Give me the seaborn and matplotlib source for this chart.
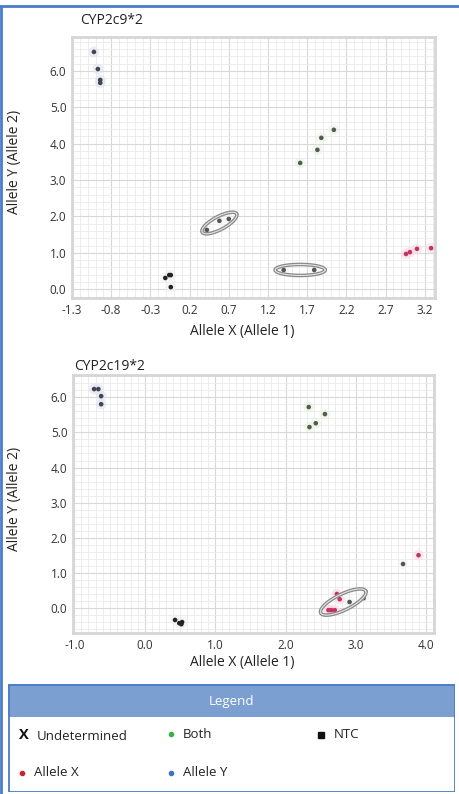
import numpy as np
import pandas as pd
import matplotlib
matplotlib.use("Agg")
import matplotlib.pyplot as plt
import seaborn as sns
from matplotlib.ticker import MultipleLocator, FixedLocator
from matplotlib.patches import Rectangle
from matplotlib.lines import Line2D

# ---------------- data: CYP2c9*2 ----------------
c9_title = "CYP2c9*2"
c9_xticks = [-1.3, -0.8, -0.3, 0.2, 0.7, 1.2, 1.7, 2.2, 2.7, 3.2]
c9_yticks = [0, 1, 2, 3, 4, 5, 6]
c9_ally_x = [-1.02, -0.97, -0.94, -0.94]
c9_ally_y = [6.52, 6.05, 5.75, 5.67]
c9_both_x = [1.61, 1.83, 1.88, 2.04]
c9_both_y = [3.47, 3.83, 4.16, 4.38]
c9_allx_x = [2.96, 3.01, 3.10, 3.28]
c9_allx_y = [0.97, 1.02, 1.11, 1.13]
c9_ntc_x = [-0.11, -0.06, -0.04, -0.04]
c9_ntc_y = [0.31, 0.39, 0.39, 0.06]
c9_unc_x = [0.42, 0.58, 0.70, 1.40, 1.79]
c9_unc_y = [1.63, 1.88, 1.93, 0.53, 0.53]
# cluster ellipses: centre x, centre y, semi-major (px), semi-minor (px), angle (deg)
c9_ell = [(0.58, 1.82, 19.5, 6.5, 28), (1.61, 0.53, 25.0, 5.5, 0)]

# ---------------- data: CYP2c19*2 ----------------
c19_title = "CYP2c19*2"
c19_xticks = [-1, 0, 1, 2, 3, 4]
c19_yticks = [0, 1, 2, 3, 4, 5, 6]
c19_ally_x = [-0.72, -0.66, -0.62, -0.62]
c19_ally_y = [6.23, 6.23, 6.03, 5.80]
c19_both_x = [2.33, 2.56, 2.43, 2.34]
c19_both_y = [5.72, 5.52, 5.26, 5.15]
c19_allx_x = [3.89, 2.73, 2.77, 2.61, 2.65, 2.70]
c19_allx_y = [1.51, 0.41, 0.26, -0.05, -0.05, -0.05]
c19_unc_x = [3.67, 2.91, 3.11]
c19_unc_y = [1.26, 0.18, 0.29]
c19_ntc_x = [0.43, 0.49, 0.53, 0.52]
c19_ntc_y = [-0.33, -0.42, -0.39, -0.45]
c19_ell = [(2.82, 0.18, 25.0, 8.0, 26)]

legend_items = ["Undetermined", "Both", "NTC", "Allele X", "Allele Y"]


def frame(groups):
    rows = []
    for name, xs, ys in groups:
        for x, y in zip(xs, ys):
            rows.append({"x": x, "y": y, "group": name})
    return pd.DataFrame(rows)


df9 = frame([("Allele Y", c9_ally_x, c9_ally_y), ("Both", c9_both_x, c9_both_y),
             ("Allele X", c9_allx_x, c9_allx_y), ("NTC", c9_ntc_x, c9_ntc_y),
             ("Unclustered", c9_unc_x, c9_unc_y)])
df19 = frame([("Allele Y", c19_ally_x, c19_ally_y), ("Both", c19_both_x, c19_both_y),
              ("Allele X", c19_allx_x, c19_allx_y), ("NTC", c19_ntc_x, c19_ntc_y),
              ("Unclustered", c19_unc_x, c19_unc_y)])

dot_pal = {"Allele Y": "#44444c", "Both": "#555a55", "Allele X": "#c8325e",
           "NTC": "#222222", "Unclustered": "#555555"}
halo_pal = {"Allele Y": "#dfe4f6", "Both": "#e6f4dc", "Allele X": "#f8dbe3",
            "NTC": "#f0f0f0", "Unclustered": "#f3f3f3"}

sns.set_theme(style="white")
plt.rcParams["font.family"] = ["Open Sans", "DejaVu Sans"]

W, H = 459, 794
fig = plt.figure(figsize=(W / 100, H / 100), dpi=100)


def px_axes(l, t, r, b):
    return fig.add_axes([l / W, 1 - b / H, (r - l) / W, (b - t) / H])


def style(ax, xlim, ylim, xticks, yticks, xminor, yminor, xlab_off, ylab_x):
    ax.set_xlim(*xlim)
    ax.set_ylim(*ylim)
    ax.xaxis.set_major_locator(FixedLocator(xticks))
    ax.yaxis.set_major_locator(FixedLocator(yticks))
    ax.set_xticklabels([f"{v:.1f}" for v in xticks])
    ax.set_yticklabels([f"{v:.1f}" for v in yticks])
    ax.xaxis.set_minor_locator(MultipleLocator(xminor))
    ax.yaxis.set_minor_locator(MultipleLocator(yminor))
    ax.grid(which="major", color="#d8d8d8", lw=0.8)
    ax.grid(which="minor", color="#eaeaea", lw=0.6)
    ax.set_axisbelow(True)
    for s in ax.spines.values():
        s.set_color("#d6d6d6")
        s.set_linewidth(2)
    ax.tick_params(which="both", length=0, labelsize=8.5, colors="#333333", pad=4)
    ax.set_xlabel("Allele X (Allele 1)", fontsize=10, color="#222222")
    ax.set_ylabel("Allele Y (Allele 2)", fontsize=10, color="#222222")
    ax.xaxis.set_label_coords(0.468, xlab_off)
    ax.yaxis.set_label_coords(ylab_x, 0.52)


def draw(ax, df, ells):
    sns.scatterplot(data=df, x="x", y="y", hue="group", palette=halo_pal, s=60,
                    alpha=0.6, edgecolor="none", legend=False, ax=ax)
    sns.scatterplot(data=df, x="x", y="y", hue="group", palette=dot_pal, s=11,
                    edgecolor="none", legend=False, ax=ax)
    x0, x1 = ax.get_xlim()
    y0, y1 = ax.get_ylim()
    sx = ax.bbox.width / (x1 - x0)
    sy = ax.bbox.height / (y1 - y0)
    t = np.linspace(0, 2 * np.pi, 200)
    for cx, cy, a, b, ang in ells:
        th = np.deg2rad(ang)
        ex = cx + (a * np.cos(t) * np.cos(th) - b * np.sin(t) * np.sin(th)) / sx
        ey = cy + (a * np.cos(t) * np.sin(th) + b * np.sin(t) * np.cos(th)) / sy
        ax.plot(ex, ey, color="#8a8a8a", lw=2.6, solid_capstyle="round")
        ax.plot(ex, ey, color="#e4e4e4", lw=0.8)


ax1 = px_axes(72, 37, 435, 298)
style(ax1, (-1.30, 3.33), (-0.24, 6.93), c9_xticks, c9_yticks, 0.1, 0.2, -0.10, -0.138)
draw(ax1, df9, c9_ell)

ax2 = px_axes(73, 375, 434, 633)
style(ax2, (-1.02, 4.11), (-0.70, 6.63), c19_xticks, c19_yticks, 0.1, 0.2, -0.085, -0.141)
draw(ax2, df19, c19_ell)

fig.text(80 / W, 1 - 21 / H, c9_title, fontsize=10, va="center", ha="left", color="#222222")
fig.text(74 / W, 1 - 367 / H, c19_title, fontsize=10, va="center", ha="left", color="#222222")

# outer blue frame (top and left)
fig.add_artist(Line2D([0, 1], [1 - 6 / H, 1 - 6 / H], transform=fig.transFigure,
                      color="#4a7cc8", lw=2))
fig.add_artist(Line2D([1.2 / W, 1.2 / W], [0, 1 - 6 / H], transform=fig.transFigure,
                      color="#4a7cc8", lw=2))

# legend panel
lg = px_axes(8, 684, 455, 792)
lg.set_xlim(0, 447)
lg.set_ylim(108, 0)
lg.axis("off")
lg.add_patch(Rectangle((0, 0), 447, 33, facecolor="#7a9fd0", edgecolor="none"))
lg.add_patch(Rectangle((0.5, 0.5), 446, 107, facecolor="none", edgecolor="#4a7cc8", lw=1.3))
lg.text(224, 17, "Legend", color="white", fontsize=9.5, ha="center", va="center")
r1, r2 = 51, 89
lg.text(16, r1, "X", fontsize=10.5, fontweight="bold", ha="center", va="center", color="#111111")
lg.text(29, r1 + 1, legend_items[0], fontsize=9.5, ha="left", va="center", color="#222222")
lg.plot([163], [r1 - 1], "o", color="#3cb043", ms=3)
lg.text(175, r1 - 1, legend_items[1], fontsize=9.5, ha="left", va="center", color="#222222")
lg.plot([313], [r1], "s", color="#111111", ms=5)
lg.text(326, r1 - 1, legend_items[2], fontsize=9.5, ha="left", va="center", color="#222222")
lg.plot([14], [r2], "o", color="#d0202a", ms=3)
lg.text(26, r2, legend_items[3], fontsize=9.5, ha="left", va="center", color="#222222")
lg.plot([163], [r2], "o", color="#3a75c4", ms=3)
lg.text(175, r2, legend_items[4], fontsize=9.5, ha="left", va="center", color="#222222")

fig.savefig("out.png", dpi=100)
